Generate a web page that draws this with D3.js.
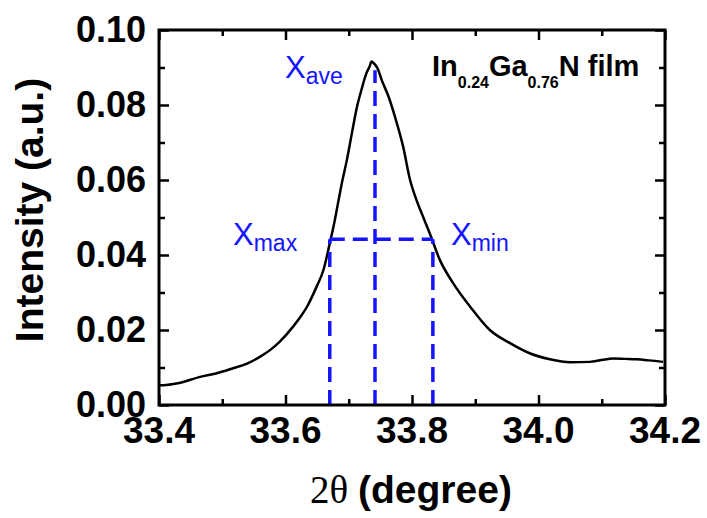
<!DOCTYPE html>
<html>
<head>
<meta charset="utf-8">
<script src="https://cdn.jsdelivr.net/npm/d3@7"></script>
<style>
  body { margin: 0; background: #fff; }
  svg { display: block; }
</style>
</head>
<body>
<script>
// 2theta values (degree)
var twoTheta = [33.400, 33.407, 33.430, 33.465, 33.490, 33.517, 33.540, 33.560, 33.576, 33.591,
                33.612, 33.624, 33.634, 33.649, 33.660, 33.670, 33.678, 33.684, 33.689, 33.697,
                33.705, 33.713, 33.720, 33.728, 33.733, 33.736, 33.739, 33.742, 33.746, 33.752,
                33.763, 33.773, 33.786, 33.797, 33.807, 33.818, 33.828, 33.844, 33.865, 33.892,
                33.923, 33.955, 33.986, 34.018, 34.050, 34.081, 34.100, 34.118, 34.137, 34.155,
                34.175, 34.197];
// intensity (a.u.)
var intensity = [0.0053, 0.0053, 0.0058, 0.0075, 0.0084, 0.0098, 0.0111, 0.0129, 0.0147, 0.0169,
                 0.0209, 0.0236, 0.0262, 0.0315, 0.0360, 0.0431, 0.0493, 0.0547, 0.0591, 0.0653,
                 0.0725, 0.0795, 0.0840, 0.0885, 0.0903, 0.0916, 0.0912, 0.0907, 0.0896, 0.0867,
                 0.0822, 0.0769, 0.0689, 0.0600, 0.0547, 0.0500, 0.0458, 0.0387, 0.0325, 0.0262,
                 0.0200, 0.0165, 0.0138, 0.0122, 0.0114, 0.0115, 0.0120, 0.0124, 0.0123, 0.0122,
                 0.0119, 0.0115];

// marker positions
var xAve = 33.7415, xMax = 33.670, xMin = 33.833;
var halfMax = 0.0442, aveTop = 0.0893;

var xTicks = [33.4, 33.6, 33.8, 34.0, 34.2];
var xMinor = [33.5, 33.7, 33.9, 34.1];
var yTicks = [0.00, 0.02, 0.04, 0.06, 0.08, 0.10];
var yMinor = [0.01, 0.03, 0.05, 0.07, 0.09];

var W = 707, H = 518;
var margin = {top: 30, right: 42, bottom: 113, left: 159},
	width = W - margin.left - margin.right,
	height = H - margin.top - margin.bottom;

var svg = d3.select("body").append("svg")
	.attr("width", W)
	.attr("height", H);

var g = svg.append("g")
	.attr("transform", "translate(" + margin.left + "," + margin.top + ")");

var x = d3.scaleLinear().domain([33.4, 34.2]).range([0, width]);
var y = d3.scaleLinear().domain([0, 0.10]).range([height, 0]);

// ticks pointing inward on all four sides
function tickAxis(axis, scale, vals, len) {
	return axis(scale).tickValues(vals).tickSize(-len).tickFormat("");
}
var sides = [
	{f: d3.axisBottom, s: x, t: "translate(0," + height + ")"},
	{f: d3.axisTop, s: x, t: "translate(0,0)"},
	{f: d3.axisLeft, s: y, t: "translate(0,0)"},
	{f: d3.axisRight, s: y, t: "translate(" + width + ",0)"}
];
sides.forEach(function(sd) {
	var isX = sd.s === x;
	[[isX ? xTicks : yTicks, 10], [isX ? xMinor : yMinor, 6]].forEach(function(p) {
		var ax = g.append("g")
			.attr("transform", sd.t)
			.call(tickAxis(sd.f, sd.s, p[0], p[1]));
		ax.select(".domain").remove();
		ax.selectAll("line").attr("stroke", "#000").attr("stroke-width", 2.5);
	});
});

// tick labels
g.append("g").selectAll("text")
	.data(xTicks).enter().append("text")
	.attr("x", function(d) { return x(d); })
	.attr("y", height + 38)
	.attr("text-anchor", "middle")
	.style("font", "bold 37px 'Liberation Sans', Arial, sans-serif")
	.text(d3.format(".1f"));

g.append("g").selectAll("text")
	.data(yTicks).enter().append("text")
	.attr("x", -13)
	.attr("y", function(d) { return y(d) + 12; })
	.attr("text-anchor", "end")
	.style("font", "bold 36px 'Liberation Sans', Arial, sans-serif")
	.text(d3.format(".2f"));

// the scan
var line = d3.line()
	.x(function(d, i) { return x(twoTheta[i]); })
	.y(function(d) { return y(d); })
	.curve(d3.curveMonotoneX);

g.append("path")
	.datum(intensity)
	.attr("d", line)
	.attr("fill", "none")
	.attr("stroke", "#000")
	.attr("stroke-width", 2.5)
	.attr("stroke-linejoin", "round");

// dashed markers
var blue = "#1414ff";
var dashes = [
	[xAve, 0, xAve, aveTop],
	[xMax, 0, xMax, halfMax],
	[xMin, 0, xMin, halfMax],
	[xMax, halfMax, xMin, halfMax]
];
g.append("g").selectAll("line")
	.data(dashes).enter().append("line")
	.attr("x1", function(d) { return x(d[0]); })
	.attr("y1", function(d) { return y(d[1]); })
	.attr("x2", function(d) { return x(d[2]); })
	.attr("y2", function(d) { return y(d[3]); })
	.attr("stroke", blue)
	.attr("stroke-width", 3.5)
	.attr("stroke-dasharray", "15,8");

// frame
g.append("rect")
	.attr("width", width)
	.attr("height", height)
	.attr("fill", "none")
	.attr("stroke", "#000")
	.attr("stroke-width", 3);

// X labels with subscripts
function subLabel(px, py, sub) {
	var t = svg.append("text")
		.attr("x", px).attr("y", py)
		.attr("fill", blue)
		.style("font-family", "'Liberation Sans', Arial, sans-serif");
	t.append("tspan").style("font-size", "31px").text("X");
	t.append("tspan").attr("dy", 6).style("font-size", "23px").text(sub);
}
subLabel(285, 78, "ave");
subLabel(233, 245, "max");
subLabel(451, 245, "min");

// sample label
var film = svg.append("text")
	.attr("x", 432).attr("y", 76)
	.attr("fill", "#000")
	.style("font-family", "'Liberation Sans', Arial, sans-serif")
	.style("font-weight", "bold");
film.append("tspan").style("font-size", "29px").text("In");
film.append("tspan").attr("dy", 12).style("font-size", "16px").text("0.24");
film.append("tspan").attr("dy", -12).style("font-size", "29px").text("Ga");
film.append("tspan").attr("dy", 12).style("font-size", "16px").text("0.76");
film.append("tspan").attr("dy", -12).style("font-size", "29px").text("N film");

// axis titles
var xt = svg.append("text")
	.attr("x", 411).attr("y", 503)
	.attr("text-anchor", "middle")
	.attr("fill", "#000");
xt.append("tspan")
	.style("font", "39px 'Liberation Serif', 'Times New Roman', serif")
	.text("2θ ");
xt.append("tspan")
	.style("font", "bold 39px 'Liberation Sans', Arial, sans-serif")
	.text("(degree)");

svg.append("text")
	.attr("transform", "translate(43,210) rotate(-90)")
	.attr("text-anchor", "middle")
	.style("font", "bold 39px 'Liberation Sans', Arial, sans-serif")
	.text("Intensity (a.u.)");
</script>
</body>
</html>
